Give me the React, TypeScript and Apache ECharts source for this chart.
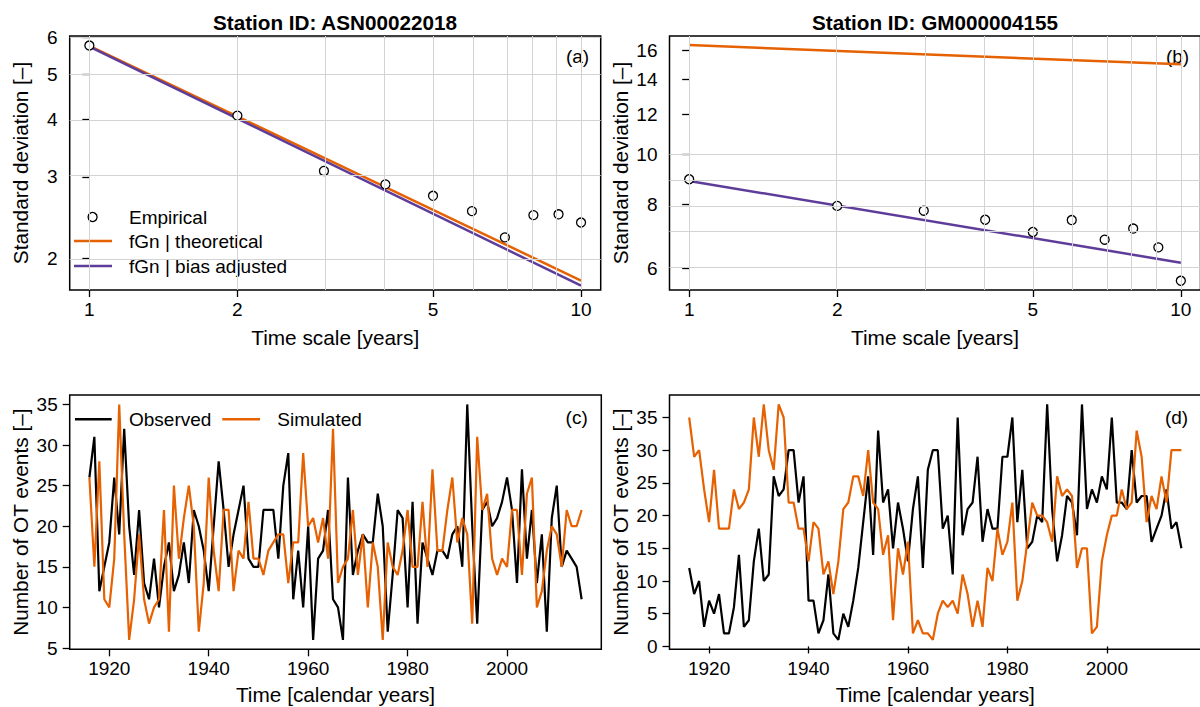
import React, { useEffect, useRef } from 'react';
import * as echarts from 'echarts';

// ---------- Data ----------
const timeScales = [1, 2, 3, 4, 5, 6, 7, 8, 9, 10];
const lineScales = [1, 10];

const empiricalA = [5.77, 4.07, 3.09, 2.89, 2.73, 2.53, 2.22, 2.48, 2.49, 2.39];
const theoreticalA = [5.76, 1.79];
const biasAdjustedA = [5.74, 1.745];

const empiricalB = [8.95, 7.94, 7.77, 7.46, 7.06, 7.45, 6.82, 7.17, 6.59, 5.67];
const theoreticalB = [16.36, 15.0];
const biasAdjustedB = [8.88, 6.15];

const firstYear = 1916;
const observedC = [
  26, 31, 12, 15, 18, 26, 19, 32, 20, 14,
  22, 13, 11, 16, 10, 15, 18, 12, 14, 18,
  13, 22, 20, 17, 12, 20, 28, 22, 15, 19,
  22, 25, 16, 15, 15, 22, 22, 22, 16, 25,
  29, 11, 17, 10, 20, 6, 16, 17, 22, 11,
  10, 6, 26, 14, 17, 19, 18, 18, 24, 20,
  7, 14, 22, 21, 10, 23, 8, 18, 16, 14,
  17, 17, 16, 19, 20, 15, 35, 20, 8, 22,
  23, 20, 21, 23, 26, 22, 13, 27, 16, 22,
  13, 19, 7, 21, 25, 15, 17, 16, 15, 11,
];
const simulatedC = [
  26, 15, 28, 11, 10, 16, 35, 19, 6, 11,
  19, 11, 8, 10, 11, 22, 7, 25, 16, 21,
  25, 20, 7, 13, 26, 17, 12, 22, 22, 12,
  17, 16, 23, 16, 16, 14, 17, 18, 19, 19,
  13, 18, 18, 29, 20, 21, 18, 21, 16, 32,
  13, 15, 16, 22, 14, 19, 10, 18, 15, 6,
  18, 15, 14, 17, 22, 15, 15, 23, 15, 27,
  17, 17, 22, 26, 18, 21, 19, 8, 31, 22,
  24, 16, 14, 16, 15, 22, 22, 14, 24, 26,
  10, 12, 17, 20, 19, 15, 22, 20, 20, 22,
];
const observedD = [
  12, 8, 10, 3, 7, 5, 8, 2, 2, 6,
  14, 3, 4, 13, 18, 10, 11, 26, 23, 24,
  30, 30, 22, 26, 7, 7, 2, 4, 11, 2,
  1, 5, 3, 7, 12, 19, 26, 14, 33, 22,
  24, 15, 22, 18, 13, 21, 26, 12, 27, 30,
  30, 18, 20, 11, 35, 17, 21, 22, 29, 16,
  21, 18, 18, 29, 29, 35, 19, 27, 15, 16,
  20, 19, 37, 21, 13, 17, 23, 22, 17, 37,
  21, 24, 22, 26, 24, 35, 22, 22, 21, 30,
  22, 23, 23, 16, 18, 20, 24, 18, 19, 15,
];
const simulatedD = [
  35, 29, 30, 24, 19, 27, 18, 18, 18, 24,
  21, 22, 24, 35, 29, 37, 30, 27, 37, 35,
  22, 22, 18, 18, 13, 19, 18, 11, 13, 8,
  13, 21, 22, 26, 26, 23, 30, 22, 21, 14,
  17, 4, 15, 11, 16, 2, 4, 2, 2, 1,
  5, 7, 6, 7, 5, 11, 8, 3, 7, 3,
  12, 10, 18, 14, 16, 22, 7, 10, 16, 22,
  20, 20, 19, 16, 26, 23, 24, 23, 12, 15,
  15, 2, 3, 13, 17, 20, 20, 24, 21, 22,
  33, 29, 19, 23, 21, 26, 22, 30, 30, 30,
];

const scaleTicks = [1, 2, 5, 10];
const sdTicksA = [2, 3, 4, 5, 6];
const sdTicksB = [6, 8, 10, 12, 14, 16];
const gridLevels = [1, 2, 3, 4, 5, 6, 7, 8, 9, 10];
const yearTicks = [1920, 1940, 1960, 1980, 2000];
const countTicksC = [5, 10, 15, 20, 25, 30, 35];
const countTicksD = [0, 5, 10, 15, 20, 25, 30, 35];

// ---------- Styling ----------
const ORANGE = '#e66101';
const PURPLE = '#5e3c99';
const GRIDLINE = '#d3d3d3';
const FONT = '"Liberation Sans", Arial, Helvetica, sans-serif';
const FS = 19;
const NAME_FS = 20.8;

const lg = (v: number) => Math.log10(v);
const fmtLog = (v: number) => String(Math.round(Math.pow(10, v)));
const fmtPlain = (v: number) => String(Math.round(v));

const years = observedC.map((_, i) => firstYear + i);

const tickStyle = { show: true, length: 7, lineStyle: { color: '#000', width: 1.3 } };
const nameStyle = { fontSize: NAME_FS, color: '#000', fontFamily: FONT };

function logXAxis(gridIndex: number) {
  const ticks = scaleTicks.map(lg);
  return {
    type: 'value', gridIndex, min: -0.04, max: 1.04,
    axisLine: { show: false }, splitLine: { show: false },
    axisTick: { ...tickStyle, customValues: ticks },
    axisLabel: { customValues: ticks, formatter: fmtLog, margin: 10, fontSize: FS, color: '#000', fontFamily: FONT },
    name: 'Time scale [years]', nameLocation: 'middle', nameGap: 36.5,
    nameTextStyle: nameStyle,
  };
}
function logYAxis(gridIndex: number, min: number, max: number, tickVals: number[]) {
  const ticks = tickVals.map(lg);
  return {
    type: 'value', gridIndex, min: lg(min), max: lg(max),
    axisLine: { show: false }, splitLine: { show: false },
    axisTick: { ...tickStyle, customValues: ticks },
    axisLabel: { customValues: ticks, formatter: fmtLog, margin: 12, fontSize: FS, color: '#000', fontFamily: FONT },
    name: 'Standard deviation [–]', nameLocation: 'middle', nameGap: 38.5,
    nameTextStyle: nameStyle,
  };
}
function yearAxis(gridIndex: number) {
  return {
    type: 'value', gridIndex, min: 1912.04, max: 2018.96,
    axisLine: { show: false }, splitLine: { show: false },
    axisTick: { ...tickStyle, customValues: yearTicks },
    axisLabel: { customValues: yearTicks, formatter: fmtPlain, margin: 10, fontSize: FS, color: '#000', fontFamily: FONT },
    name: 'Time [calendar years]', nameLocation: 'middle', nameGap: 34.5,
    nameTextStyle: nameStyle,
  };
}
function countAxis(gridIndex: number, min: number, max: number, ticks: number[]) {
  return {
    type: 'value', gridIndex, min, max,
    axisLine: { show: false }, splitLine: { show: false },
    axisTick: { ...tickStyle, customValues: ticks },
    axisLabel: { customValues: ticks, formatter: fmtPlain, margin: 12, fontSize: FS, color: '#000', fontFamily: FONT },
    name: 'Number of OT events [–]', nameLocation: 'middle', nameGap: 38.5,
    nameTextStyle: nameStyle,
  };
}

function gridSeries(idx: number) {
  return {
    type: 'line', xAxisIndex: idx, yAxisIndex: idx, data: [], z: 1, silent: true,
    markLine: {
      silent: true, symbol: ['none', 'none'], label: { show: false },
      lineStyle: { color: GRIDLINE, width: 1, type: 'solid' },
      emphasis: { disabled: true },
      data: [
        ...gridLevels.map((v) => ({ xAxis: lg(v) })),
        ...gridLevels.map((v) => ({ yAxis: lg(v) })),
      ],
    },
  };
}
function fitLine(idx: number, vals: number[], color: string) {
  return {
    type: 'line', xAxisIndex: idx, yAxisIndex: idx, z: 3, symbol: 'none', silent: true,
    data: lineScales.map((s, i) => [lg(s), lg(vals[i])]),
    lineStyle: { color, width: 2.5 }, itemStyle: { color },
  };
}
function empSeries(idx: number, vals: number[]) {
  return {
    type: 'scatter', xAxisIndex: idx, yAxisIndex: idx, z: 4, silent: true,
    symbol: 'circle', symbolSize: 9,
    itemStyle: { color: '#fff', borderColor: '#000', borderWidth: 1.3, opacity: 1 },
    data: timeScales.map((s, i) => [lg(s), lg(vals[i])]),
  };
}
function tsSeries(idx: number, vals: number[], color: string, z: number) {
  return {
    type: 'line', xAxisIndex: idx, yAxisIndex: idx, z, symbol: 'none', silent: true,
    data: years.map((y, i) => [y, vals[i]]),
    lineStyle: { color, width: 2.2 }, itemStyle: { color },
  };
}

const txt = (text: string, x: number, y: number, extra: any = {}) => ({
  type: 'text', x, y, silent: true,
  style: { text, fontSize: FS, fontFamily: FONT, fill: '#000', align: 'left', verticalAlign: 'middle', ...extra },
});
const seg = (x1: number, x2: number, y: number, color: string) => ({
  type: 'line', silent: true, shape: { x1, y1: y, x2, y2: y }, style: { stroke: color, lineWidth: 2.5 },
});

export default function App() {
  const ref = useRef<HTMLDivElement>(null);
  useEffect(() => {
    if (!ref.current) return;
    const chart = echarts.init(ref.current, undefined, { renderer: 'svg' });
    const gridBase = { show: true, borderColor: '#000', borderWidth: 1.5, backgroundColor: 'transparent', containLabel: false, outerBoundsMode: 'none' };
    const option: any = {
      animation: false,
      textStyle: { fontFamily: FONT },
      grid: [
        { ...gridBase, left: 69.7, top: 36, width: 531, height: 254 },
        { ...gridBase, left: 669.5, top: 36, width: 531, height: 254 },
        { ...gridBase, left: 69.7, top: 395, width: 531.6, height: 254.3 },
        { ...gridBase, left: 669.5, top: 395, width: 531.6, height: 254.3 },
      ],
      xAxis: [logXAxis(0), logXAxis(1), yearAxis(2), yearAxis(3)],
      yAxis: [
        logYAxis(0, 1.708, 6.05, sdTicksA),
        logYAxis(1, 5.44, 17.04, sdTicksB),
        countAxis(2, 4.84, 36.16, countTicksC),
        countAxis(3, -0.44, 38.44, countTicksD),
      ],
      series: [
        gridSeries(0),
        fitLine(0, theoreticalA, ORANGE),
        fitLine(0, biasAdjustedA, PURPLE),
        empSeries(0, empiricalA),
        gridSeries(1),
        fitLine(1, theoreticalB, ORANGE),
        fitLine(1, biasAdjustedB, PURPLE),
        empSeries(1, empiricalB),
        tsSeries(2, observedC, '#000', 2),
        tsSeries(2, simulatedC, ORANGE, 3),
        tsSeries(3, observedD, '#000', 2),
        tsSeries(3, simulatedD, ORANGE, 3),
      ],
      graphic: [
        txt('Station ID: ASN00022018', 335, 22, { align: 'center', fontWeight: 'bold', fontSize: 20.7 }),
        txt('Station ID: GM000004155', 935, 22, { align: 'center', fontWeight: 'bold', fontSize: 20.7 }),
        txt('(a)', 577.5, 56.5, { align: 'center' }),
        txt('(b)', 1177.5, 56.5, { align: 'center' }),
        txt('(c)', 576.7, 417.5, { align: 'center' }),
        txt('(d)', 1176.5, 417.5, { align: 'center' }),
        { type: 'circle', silent: true, shape: { cx: 92.6, cy: 217, r: 4.5 }, style: { fill: '#fff', stroke: '#000', lineWidth: 1.3 } },
        txt('Empirical', 129, 217),
        seg(74, 112, 241, ORANGE),
        txt('fGn | theoretical', 129, 241),
        seg(74, 112, 266, PURPLE),
        txt('fGn | bias adjusted', 129, 266),
        seg(75, 111.7, 419.3, '#000'),
        txt('Observed', 129, 419.3),
        seg(222.3, 260, 419.3, ORANGE),
        txt('Simulated', 277.3, 419.3),
      ],
    };
    chart.setOption(option);
    return () => chart.dispose();
  }, []);
  return (
    <div
      ref={ref}
      style={{ position: 'absolute', left: 0, top: 0, width: 1200, height: 707, background: '#fff' }}
    />
  );
}
